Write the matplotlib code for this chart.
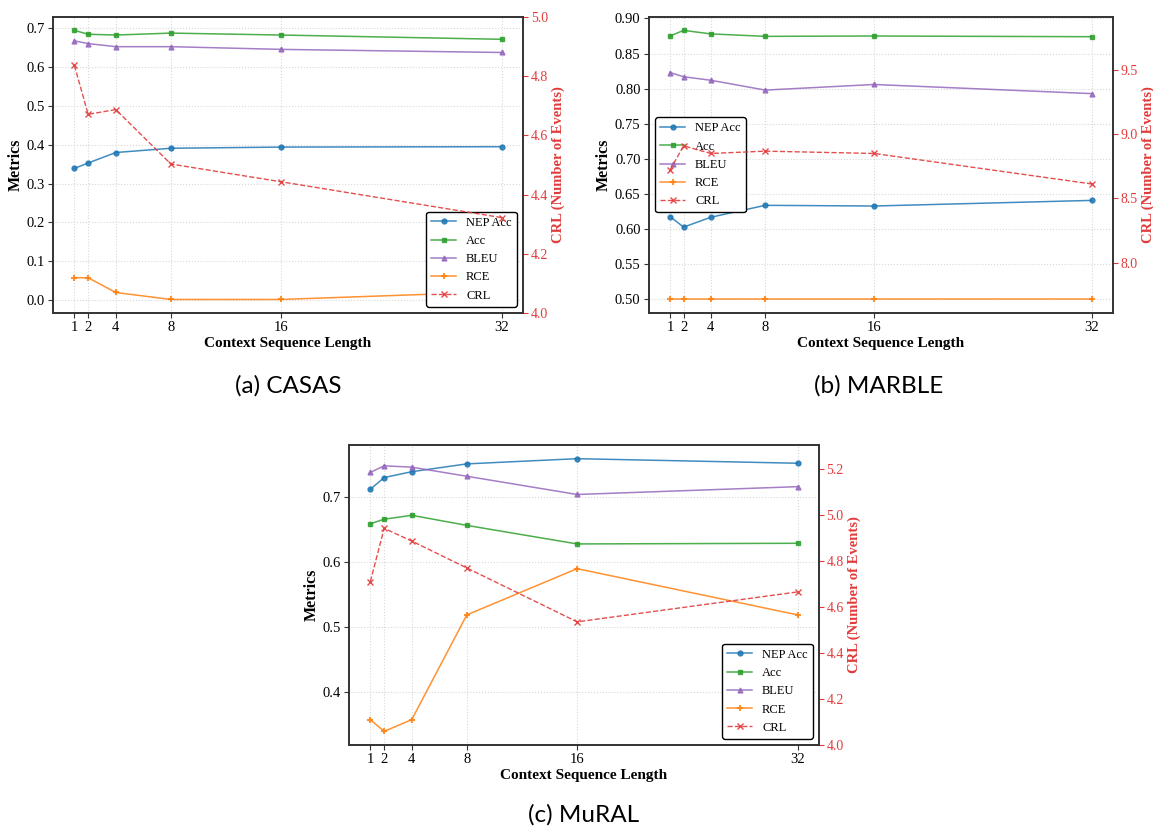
import matplotlib
matplotlib.use('Agg')
from matplotlib import pyplot as plt

plt.rcParams['font.family'] = ['Liberation Serif', 'DejaVu Serif']

# context sequence lengths shared by all three datasets
seq_len = [1, 2, 4, 8, 16, 32]
series_names = ['NEP Acc', 'Acc', 'BLEU', 'RCE', 'CRL']

# CASAS
casas_nep = [0.339, 0.353, 0.380, 0.391, 0.394, 0.395]
casas_acc = [0.695, 0.685, 0.683, 0.688, 0.683, 0.672]
casas_bleu = [0.668, 0.661, 0.653, 0.653, 0.646, 0.638]
casas_rce = [0.057, 0.057, 0.019, 0.001, 0.001, 0.021]
casas_crl = [4.836, 4.671, 4.687, 4.503, 4.443, 4.322]

# MARBLE
marble_nep = [0.618, 0.603, 0.617, 0.634, 0.633, 0.641]
marble_acc = [0.875, 0.883, 0.878, 0.8745, 0.875, 0.874]
marble_bleu = [0.823, 0.817, 0.812, 0.798, 0.806, 0.793]
marble_rce = [0.500, 0.500, 0.500, 0.500, 0.500, 0.500]
marble_crl = [8.72, 8.908, 8.849, 8.867, 8.849, 8.612]

# MuRAL
mural_nep = [0.712, 0.730, 0.739, 0.751, 0.759, 0.752]
mural_acc = [0.659, 0.666, 0.672, 0.6565, 0.628, 0.629]
mural_bleu = [0.738, 0.748, 0.746, 0.732, 0.704, 0.716]
mural_rce = [0.358, 0.340, 0.358, 0.519, 0.590, 0.519]
mural_crl = [4.710, 4.941, 4.886, 4.769, 4.535, 4.665]

captions = ['(a) CASAS', '(b) MARBLE', '(c) MuRAL']
crl_limits = [(4.0, 5.0), (7.61, 9.91), (4.0, 5.303)]
legend_locs = ['lower right', 'center left', 'lower right']

colors = ['tab:blue', 'tab:green', 'tab:purple', 'tab:orange']
markers = ['o', 's', '^', '+']
red = '#e23b3b'

fig = plt.figure(figsize=(11.53, 8.30), dpi=100)

boxes = [
    [0.046, 0.623, 0.4076, 0.3566],
    [0.5628, 0.623, 0.4024, 0.3566],
    [0.3027, 0.1024, 0.4076, 0.3614],
]
cap_pos = [(0.250, 0.535), (0.762, 0.535), (0.506, 0.018)]

data = [
    (casas_nep, casas_acc, casas_bleu, casas_rce, casas_crl),
    (marble_nep, marble_acc, marble_bleu, marble_rce, marble_crl),
    (mural_nep, mural_acc, mural_bleu, mural_rce, mural_crl),
]

for i in range(3):
    ax = fig.add_axes(boxes[i])
    ax2 = ax.twinx()
    handles = []
    for j in range(4):
        mew = 1.5 if markers[j] == '+' else 1
        ms = 5 if markers[j] == '+' else 3.5
        h, = ax.plot(seq_len, data[i][j], color=colors[j], marker=markers[j],
                     markersize=ms, markeredgewidth=mew, linewidth=1.1,
                     alpha=0.85, label=series_names[j])
        handles.append(h)
    h, = ax2.plot(seq_len, data[i][4], color=red, marker='x', markersize=4,
                  linestyle='--', linewidth=1.0, alpha=0.9, label='CRL')
    handles.append(h)

    ax.set_xticks(seq_len)
    ax.grid(True, linestyle=':', color='#c8c8c8', linewidth=0.8, alpha=0.7)
    ax.set_xlabel('Context Sequence Length', fontsize=11, fontweight='bold',
                  labelpad=2)
    ax.set_ylabel('Metrics', fontsize=11.5, fontweight='bold', labelpad=2)
    ax.tick_params(labelsize=10.5, color='#333333', pad=2.5)
    ax2.set_ylim(crl_limits[i])
    ax2.set_ylabel('CRL (Number of Events)', fontsize=10.5, fontweight='bold',
                   color=red, labelpad=2.5)
    ax2.tick_params(axis='y', labelsize=10, colors=red, pad=2)
    for a in (ax, ax2):
        for s in a.spines.values():
            s.set_color('#333333')
            s.set_linewidth(1.2)

    leg = ax.legend(handles=handles, loc=legend_locs[i], fontsize=9,
                    fancybox=True, framealpha=1, edgecolor='black')
    leg.get_frame().set_linewidth(1.0)

    fig.text(cap_pos[i][0], cap_pos[i][1], captions[i], ha='center',
             va='center', fontsize=17.5, family=['Lato', 'DejaVu Sans'])

fig.savefig('out.png', dpi=100)
